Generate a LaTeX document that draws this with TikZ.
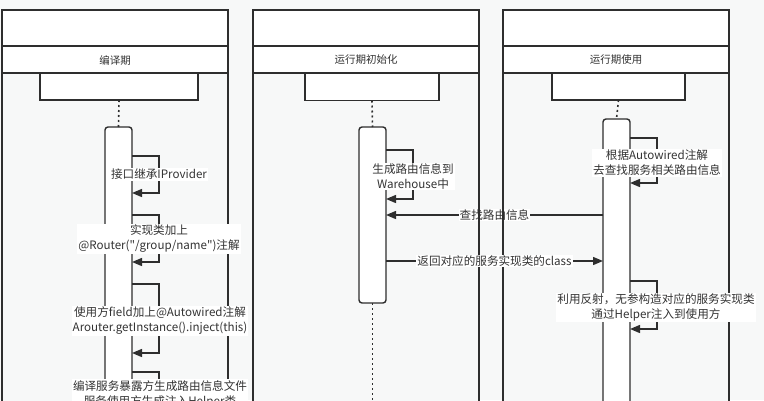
\documentclass[tikz,border=0pt]{standalone}
\usepackage{fontspec}
\setmainfont{Noto Sans CJK SC}[Ligatures=TeXOff]
\usetikzlibrary{arrows.meta}
\definecolor{lc}{HTML}{2E2E2E}
\definecolor{bgc}{HTML}{F7F8F8}
\definecolor{txt}{HTML}{333333}
\begin{document}
\begin{tikzpicture}[x=1pt,y=-1pt,
  border/.style={draw=lc,line width=1.4pt},
  headbox/.style={draw=lc,line width=1.4pt,fill=white,inner sep=0pt,outer sep=0pt,minimum height=27pt},
  actbar/.style={draw=lc,line width=1.4pt,fill=white,rounded corners=3pt,inner sep=0pt,outer sep=0pt,minimum width=27pt},
  lifedots/.style={draw=lc,line width=1.6pt,dash pattern=on 2pt off 3pt},
  msg/.style={draw=lc,line width=1.4pt,-{Triangle[length=10pt,width=8pt]}},
  lbl/.style={fill=white,text=txt,inner sep=1pt,align=center,font=\fontsize{11.6}{15}\selectfont},
  lanetitle/.style={text=txt,font=\fontsize{10.5}{13}\selectfont}]
\useasboundingbox (0,0) rectangle (764,400);
\clip (0,0) rectangle (764,400);
\fill[bgc] (0,0) rectangle (764,400);
% lane fills
\foreach \xa/\xb in {2/228,253/479,503/729}{
  \fill[white] (\xa,10) rectangle (\xb,73);
  \fill[bgc] (\xa,73) rectangle (\xb,410);
}
% lifeline heads
\node[headbox,minimum width=158pt] (h1) at (119,86.5) {};
\node[headbox,minimum width=134pt] (h2) at (372,87) {};
\node[headbox,minimum width=133pt] (h3) at (618.5,86.5) {};
% activation bars
\node[actbar,minimum height=283pt] (b1) at (118.5,268.5) {};
\node[actbar,minimum height=176pt] (b2) at (372.5,215) {};
\node[actbar,minimum height=291pt] (b3) at (616.5,264.5) {};
% dotted lifelines
\draw[lifedots] (h1.south) -- (b1.north);
\draw[lifedots] (h2.south) -- (b2.north);
\coordinate (end2) at (372.5,402);
\draw[lifedots] (b2.south) -- (end2);
\draw[lifedots] (h3.south) -- (b3.north);
% message 1 (under the lane borders)
\draw[msg] (b3.west |- 0,215) -- node[lbl,pos=0.5]{查找路由信息} (b2.east |- 0,215);
% lane borders
\foreach \xa/\xb in {2/228,253/479,503/729}{
  \draw[border] (\xa,410) -- (\xa,10) -- (\xb,10) -- (\xb,410);
  \draw[border] (\xa,46) -- (\xb,46);
  \draw[border] (\xa,73) -- (\xb,73);
}
\node[lanetitle] (t1) at (115,60) {编译期};
\node[lanetitle] (t2) at (366,60) {运行期初始化};
\node[lanetitle] (t3) at (616,60) {运行期使用};
% lane 1 self messages
\draw[msg] (b1.east |- 0,156) -- (159,156) -- node[lbl]{接口继承IProvider} (159,193) -- (b1.east |- 0,193);
\draw[msg] (b1.east |- 0,215) -- (159,215) -- (159,262) -- (b1.east |- 0,262);
\node[lbl] (l12) at (159,239) {实现类加上\\@Router("/group/name")注解};
\draw[msg] (b1.east |- 0,284) -- (159,284) -- (159,353) -- (b1.east |- 0,353);
\node[lbl] (l13) at (160,321) {使用方field加上@Autowired注解\\Arouter.getInstance().inject(this)};
\draw[msg] (b1.east |- 0,372) -- (159,372) -- (159,440) -- (b1.east |- 0,440);
\node[lbl] (l14) at (160,394) {编译服务暴露方生成路由信息文件\\服务使用方生成注入Helper类};
% lane 2 self message
\draw[msg] (b2.east |- 0,150) -- (413,150) -- (413,199) -- (b2.east |- 0,199);
\node[lbl] (l21) at (413,176.5) {生成路由信息到\\Warehouse中};
% lane 3 self messages
\draw[msg] (b3.east |- 0,138) -- (657,138) -- (657,183) -- (b3.east |- 0,183);
\node[lbl] (l31) at (657,163) {根据Autowired注解\\去查找服务相关路由信息};
\draw[msg] (b3.east |- 0,281) -- (657,281) -- (657,329) -- (b3.east |- 0,329);
\node[lbl] (l32) at (656,307.5) {利用反射，无参构造对应的服务实现类\\通过Helper注入到使用方};
% message 2
\draw[msg] (b2.east |- 0,261) -- node[lbl,pos=0.5]{返回对应的服务实现类的class} (b3.west |- 0,261);
\end{tikzpicture}
\end{document}
